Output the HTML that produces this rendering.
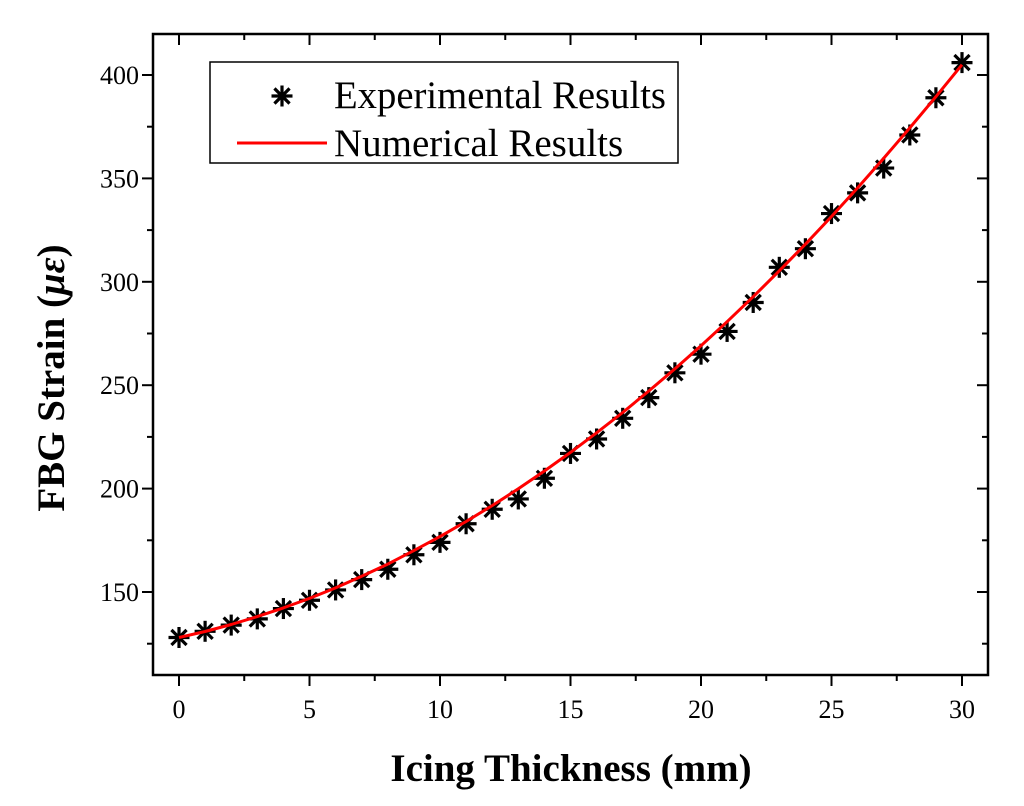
<!DOCTYPE html>
<html><head><meta charset="utf-8"><style>
html,body{margin:0;padding:0;background:#fff;}
svg{display:block;font-family:"Liberation Serif",serif;}
</style></head><body>
<svg id="chart" width="1024" height="806" viewBox="0 0 1024 806">
<rect x="0" y="0" width="1024" height="806" fill="#fff"/>
<g id="axes"></g>
<g id="series"></g>
<g id="legend">
  <rect x="210" y="62" width="468" height="101" fill="#fff" stroke="#000" stroke-width="1.5"/>
  <g id="legstar"></g>
  <text x="334" y="108" font-size="39" textLength="332" lengthAdjust="spacingAndGlyphs">Experimental Results</text>
  <line x1="237" y1="143" x2="327" y2="143" stroke="#f00" stroke-width="3"/>
  <text x="334" y="156" font-size="39">Numerical Results</text>
</g>
<text x="571" y="781" font-size="39" font-weight="bold" text-anchor="middle">Icing Thickness (mm)</text>
<text transform="translate(64,378) rotate(-90)" font-size="39" font-weight="bold" text-anchor="middle">FBG Strain (<tspan font-style="italic">με</tspan>)</text>
</svg>
<script>
const xCats=[0,1,2,3,4,5,6,7,8,9,10,11,12,13,14,15,16,17,18,19,20,21,22,23,24,25,26,27,28,29,30];
const expValues=[128,131,134,137,142,146,151,156,161,168,174,183,190,195,205,217,224,234,244,256,265,276,290,307,316,333,343,355,371,389,406];
const numValues=[128,130.9,134.3,138.1,142.3,146.9,152.0,157.6,163.5,170,176.8,184.1,191.8,199.9,208.5,217.5,227,236.8,247.2,257.9,269.1,280.7,292.8,305.3,318.2,331.6,345.4,359.7,374.4,389.5,405];
const xTicks=[0,5,10,15,20,25,30];
const yTicks=[150,200,250,300,350,400];

const L=153,R=988,T=34,B=675;
const X=v=>179+(v-0)*(962-179)/30;
const Y=v=>592-(v-150)*(517/250);
const NS="http://www.w3.org/2000/svg";
function mk(tag,attrs,parent){const e=document.createElementNS(NS,tag);for(const k in attrs)e.setAttribute(k,attrs[k]);parent.appendChild(e);return e;}
const axes=document.getElementById('axes');
const frame=mk('rect',{x:L,y:T,width:R-L,height:B-T,fill:'none',stroke:'#000','stroke-width':2.5},axes);


for(let v=0;v<=32.5;v+=2.5){
  const px=X(v); if(px>R-2)continue;
  const major=Math.abs(v%5)<1e-9;
  const len=major?11:6;
  const t=mk('line',{x1:px,y1:B,x2:px,y2:B+len,stroke:'#000','stroke-width':2},axes);
  
  
  const t2=mk('line',{x1:px,y1:T,x2:px,y2:T+len,stroke:'#000','stroke-width':2},axes);
  
  
}
xTicks.forEach(v=>{
  const tx=mk('text',{x:X(v),y:718,'font-size':26,'text-anchor':'middle'},axes);
  tx.textContent=v;
  
  
});
for(let v=125;v<=425;v+=25){
  const py=Y(v); if(py<T+2||py>B-2)continue;
  const major=v%50===0;
  const len=major?11:6;
  const t=mk('line',{x1:L-len,y1:py,x2:L,y2:py,stroke:'#000','stroke-width':2},axes);
  
  
  const t2=mk('line',{x1:R-len,y1:py,x2:R,y2:py,stroke:'#000','stroke-width':2},axes);
  
  
}
yTicks.forEach(v=>{
  const tx=mk('text',{x:139,y:Y(v)+9,'font-size':26,'text-anchor':'end'},axes);
  tx.textContent=v;
  
  
});
const series=document.getElementById('series');
function star(cx,cy,parent){
  const g=mk('g',{stroke:'#000','stroke-width':3.2},parent);
  const r=10.5, d=r*0.72;
  mk('line',{x1:cx,y1:cy-r,x2:cx,y2:cy+r},g);
  mk('line',{x1:cx-r,y1:cy,x2:cx+r,y2:cy},g);
  mk('line',{x1:cx-d,y1:cy-d,x2:cx+d,y2:cy+d},g);
  mk('line',{x1:cx-d,y1:cy+d,x2:cx+d,y2:cy-d},g);
  return g;
}
xCats.forEach((c,i)=>{
  const g=star(X(c),Y(expValues[i]),series);
  
  
});
const d=xCats.map((c,i)=>(i?'L':'M')+X(c).toFixed(1)+','+Y(numValues[i]).toFixed(1)).join(' ');
const line=mk('path',{d:d,fill:'none',stroke:'#f00','stroke-width':3,'stroke-linejoin':'round'},series);


const ls=star(282,96,document.getElementById('legstar'));


</script>
</body></html>
